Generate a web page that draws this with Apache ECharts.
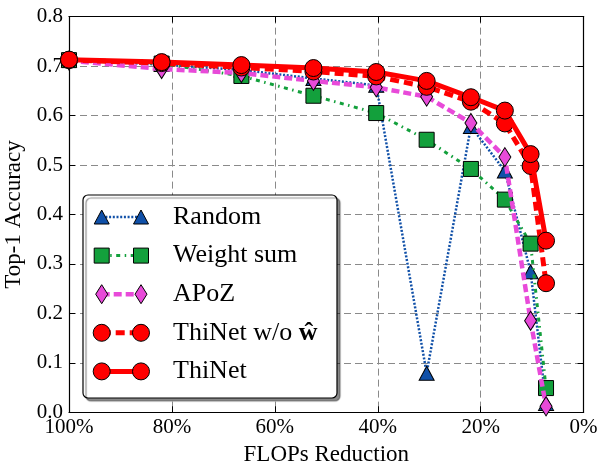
<!DOCTYPE html>
<html><head><meta charset="utf-8">
<script src="https://cdn.jsdelivr.net/npm/echarts@6/dist/echarts.min.js"></script>
<style>html,body{margin:0;padding:0;background:#fff}#c{width:598px;height:462px}</style>
</head><body><div id="c"></div>
<script>
// ---- data ----
const flopsReduction = [100, 82.0, 66.5, 52.5, 40.3, 30.5, 21.9, 15.3, 10.3, 7.3];
const randomAcc     = [0.712, 0.703, 0.692, 0.675, 0.661, 0.079, 0.578, 0.488, 0.284, 0.018];
const weightSumAcc  = [0.712, 0.705, 0.680, 0.640, 0.605, 0.551, 0.492, 0.430, 0.341, 0.049];
const apozAcc       = [0.711, 0.694, 0.686, 0.670, 0.657, 0.638, 0.585, 0.516, 0.185, 0.012];
const thinetNoWAcc  = [0.712, 0.706, 0.697, 0.689, 0.679, 0.658, 0.628, 0.584, 0.498, 0.261];
const thinetAcc     = [0.713, 0.708, 0.702, 0.696, 0.688, 0.670, 0.637, 0.610, 0.522, 0.347];
const seriesNames = ['Random', 'Weight sum', 'APoZ', 'ThiNet w/o ŵ', 'ThiNet'];
const xTickValues = [100, 80, 60, 40, 20, 0];
const yTickValues = [0.0, 0.1, 0.2, 0.3, 0.4, 0.5, 0.6, 0.7, 0.8];

const FONT = '"Liberation Serif", "DejaVu Serif", serif';
const BLUE = '#1050A8', GREEN = '#13A03C', PINK = '#E84AD9', RED = '#FF0000';

const styles = [
  {color: BLUE,  symbol: 'triangle', size: [15, 14], width: 2.5, dash: [2, 1.7]},
  {color: GREEN, symbol: 'rect',     size: 15,       width: 3,   dash: [4, 4.5, 1.5, 4.5]},
  {color: PINK,  symbol: 'diamond',  size: [12, 19], width: 4.5, dash: [8, 4]},
  {color: RED,   symbol: 'circle',   size: 17,       width: 5,   dash: [9, 5]},
  {color: RED,   symbol: 'circle',   size: 17,       width: 5,   dash: 'solid'}
];
const values = [randomAcc, weightSumAcc, apozAcc, thinetNoWAcc, thinetAcc];

const chart = echarts.init(document.getElementById('c'), null, {renderer: 'canvas'});

const series = values.map((vals, i) => ({
  name: seriesNames[i],
  type: 'line',
  xAxisIndex: 0, yAxisIndex: 0,
  data: flopsReduction.map((x, j) => [x, vals[j]]),
  symbol: styles[i].symbol,
  symbolSize: styles[i].size,
  showAllSymbol: true,
  clip: true,
  z: 2 + i * 0.01,
  lineStyle: {color: styles[i].color, width: styles[i].width, type: styles[i].dash, cap: 'butt'},
  itemStyle: {color: styles[i].color, borderColor: '#000', borderWidth: 1, opacity: 1},
  emphasis: {disabled: true}
}));

// legend layout
const LG = {left: 83, top: 195, w: 254, h: 203, padTop: 9, padLeft: 10, itemH: 26, gap: 12.6, iconW: 74};
const graphics = [{
  type: 'rect', z: 3,
  shape: {x: LG.left, y: LG.top, width: LG.w, height: LG.h, r: 5},
  style: {fill: '#fff', stroke: '#000', lineWidth: 1.2, shadowColor: 'rgba(0,0,0,0.45)', shadowOffsetX: 3, shadowOffsetY: 3, shadowBlur: 1}
}];
function markerShape(st, cx, cy) {
  const base = {z: 5, style: {fill: st.color, stroke: '#000', lineWidth: 1}};
  if (st.symbol === 'circle') return Object.assign({type: 'circle', shape: {cx, cy, r: st.size / 2}}, base);
  if (st.symbol === 'rect') return Object.assign({type: 'rect', shape: {x: cx - st.size / 2, y: cy - st.size / 2, width: st.size, height: st.size}}, base);
  const w = st.size[0] / 2, h = st.size[1] / 2;
  if (st.symbol === 'triangle') return Object.assign({type: 'polygon', shape: {points: [[cx, cy - h], [cx + w, cy + h], [cx - w, cy + h]]}}, base);
  return Object.assign({type: 'polygon', shape: {points: [[cx, cy - h], [cx + w, cy], [cx, cy + h], [cx - w, cy]]}}, base);
}
styles.forEach((st, i) => {
  const cy = LG.top + LG.padTop + i * (LG.itemH + LG.gap) + LG.itemH / 2;
  const x1 = 101.7, x2 = 141;
  graphics.push({type: 'line', z: 4, shape: {x1, y1: cy, x2, y2: cy},
    style: {stroke: st.color, lineWidth: st.width, lineDash: st.dash === 'solid' ? null : st.dash}});
  graphics.push(markerShape(st, x1, cy));
  graphics.push(markerShape(st, x2, cy));
});

const axisCommon = {
  type: 'value',
  axisLine: {show: true, onZero: false, lineStyle: {color: '#000', width: 1.2}},
  axisTick: {show: true, inside: true, length: 6, lineStyle: {color: '#000', width: 1}},
  axisLabel: {color: '#000', fontFamily: FONT, fontSize: 21},
  splitLine: {show: false}
};

chart.setOption({
  animation: false,
  backgroundColor: '#fff',
  grid: {left: 69, right: 14.4, top: 16.6, bottom: 49.7, containLabel: false, outerBoundsMode: 'none'},
  xAxis: [
    Object.assign({}, axisCommon, {
      position: 'bottom', min: 0, max: 100, interval: 20, inverse: true,
      name: 'FLOPs Reduction', nameLocation: 'middle', nameGap: 28,
      nameTextStyle: {color: '#000', fontFamily: FONT, fontSize: 23},
      axisLabel: Object.assign({}, axisCommon.axisLabel, {margin: 5, formatter: v => xTickValues.includes(v) ? v + '%' : ''}),
      splitLine: {show: true, lineStyle: {color: '#8a8a8a', width: 1, type: [7, 4]}}
    }),
    Object.assign({}, axisCommon, {
      position: 'top', min: 0, max: 100, interval: 20, inverse: true,
      axisLabel: {show: false}
    })
  ],
  yAxis: [
    Object.assign({}, axisCommon, {
      position: 'left', min: 0, max: 0.8, interval: 0.1,
      name: 'Top-1 Accuracy', nameLocation: 'middle', nameGap: 40, nameRotate: 90,
      nameTextStyle: {color: '#000', fontFamily: FONT, fontSize: 23},
      axisLabel: Object.assign({}, axisCommon.axisLabel, {margin: 6, formatter: v => {
        const t = yTickValues.find(y => Math.abs(y - v) < 1e-9);
        return t === undefined ? '' : t.toFixed(1);
      }}),
      splitLine: {show: true, lineStyle: {color: '#8a8a8a', width: 1, type: [7, 4]}}
    }),
    Object.assign({}, axisCommon, {
      position: 'right', min: 0, max: 0.8, interval: 0.1,
      axisLabel: {show: false}
    })
  ],
  legend: {
    show: true, orient: 'vertical',
    left: LG.left + LG.padLeft, top: LG.top + LG.padTop,
    padding: 0, itemGap: LG.gap, itemWidth: LG.iconW, itemHeight: 18,
    z: 6, selectedMode: false,
    data: seriesNames,
    itemStyle: {opacity: 0}, lineStyle: {opacity: 0},
    textStyle: {color: '#000', fontFamily: FONT, fontSize: 26, lineHeight: LG.itemH,
      rich: {b: {fontFamily: FONT, fontSize: 26, fontWeight: 'bold', lineHeight: LG.itemH, color: '#000'}}},
    formatter: name => name === 'ThiNet w/o ŵ' ? 'ThiNet w/o {b|ŵ}' : name
  },
  graphic: graphics,
  series: series
});
</script>
</body></html>
